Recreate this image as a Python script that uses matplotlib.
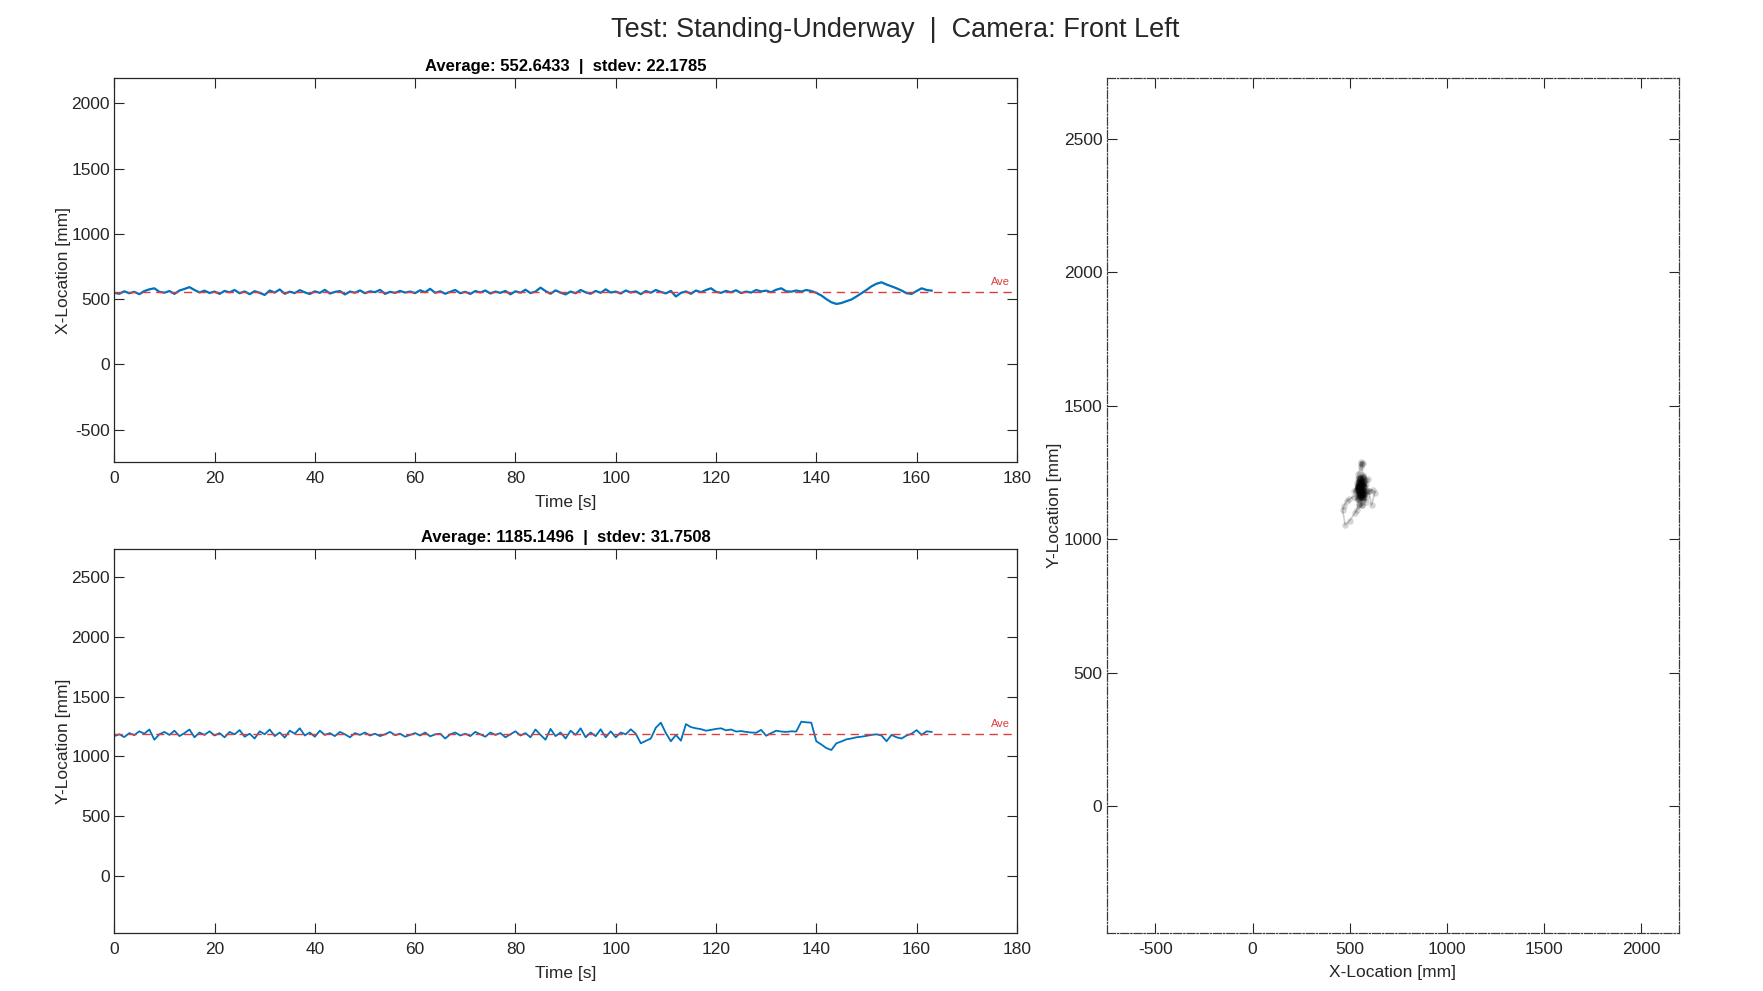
"""
Standing-Underway test, front left camera: X/Y location over time
and the X-Y track of the tracked point.
"""

import numpy as np
import matplotlib
matplotlib.use("Agg")
import matplotlib.pyplot as plt

plt.rcParams["font.family"] = ["Liberation Sans", "DejaVu Sans"]
plt.rcParams["axes.unicode_minus"] = False

# --- data (1 sample per second) ---
time_s = np.arange(0, 164)

x_loc = [
    548, 541, 560, 545, 556, 538, 562, 575, 583, 556,
    549, 562, 540, 566, 578, 592, 570, 551, 565, 547,
    558, 540, 563, 552, 570, 545, 559, 538, 561, 548,
    532, 566, 550, 574, 541, 557, 546, 569, 552, 539,
    560, 548, 571, 543, 555, 562, 536, 558, 549, 567,
    545, 560, 553, 571, 540, 556, 548, 563, 550, 558,
    546, 568, 553, 579, 548, 560, 541, 556, 570, 545,
    556, 540, 562, 551, 566, 543, 558, 548, 563, 537,
    560, 549, 572, 546, 558, 588, 562, 541, 567, 550,
    536, 558, 545, 570, 552, 541, 563, 548, 575, 550,
    558, 543, 566, 551, 560, 538, 562, 549, 570, 555,
    544, 563, 520, 548, 559, 541, 566, 553, 570, 583,
    556, 548, 563, 552, 568, 546, 558, 550, 570, 559,
    565, 553, 572, 583, 560, 557, 566, 558, 570, 562,
    548, 528, 500, 476, 463, 470, 484, 497, 520, 545,
    570, 598, 618, 629, 612, 598, 583, 566, 545, 540,
    562, 583, 570, 565,
]

y_loc = [
    1170, 1185, 1162, 1195, 1178, 1210, 1190, 1225, 1140, 1185,
    1205, 1180, 1215, 1170, 1195, 1225, 1160, 1200, 1180, 1210,
    1175, 1195, 1160, 1205, 1185, 1220, 1165, 1190, 1150, 1210,
    1185, 1225, 1170, 1200, 1158, 1215, 1190, 1235, 1175, 1200,
    1165, 1215, 1180, 1195, 1170, 1205, 1185, 1160, 1195, 1180,
    1200, 1175, 1190, 1170, 1185, 1205, 1178, 1190, 1165, 1180,
    1195, 1175, 1200, 1168, 1185, 1190, 1150, 1185, 1200, 1175,
    1190, 1170, 1205, 1185, 1165, 1200, 1180, 1195, 1160, 1185,
    1210, 1175, 1195, 1160, 1225, 1180, 1140, 1230, 1170, 1200,
    1150, 1215, 1180, 1235, 1160, 1200, 1170, 1227, 1160, 1210,
    1160, 1200, 1185, 1227, 1190, 1110, 1130, 1150, 1240, 1282,
    1195, 1127, 1180, 1132, 1270, 1245, 1235, 1228, 1215, 1222,
    1230, 1235, 1218, 1225, 1208, 1212, 1205, 1200, 1198, 1222,
    1173, 1195, 1215, 1208, 1205, 1210, 1208, 1290, 1285, 1282,
    1127, 1100, 1070, 1054, 1110, 1125, 1143, 1150, 1160, 1165,
    1172, 1180, 1185, 1175, 1127, 1180, 1160, 1150, 1175, 1190,
    1220, 1180, 1210, 1205,
]

avg_x, std_x = 552.6433, 22.1785
avg_y, std_y = 1185.1496, 31.7508

suptitle = "Test: Standing-Underway  |  Camera: Front Left"

# axis limits as shown
time_lim = (0, 180)
x_lim = (-751, 2193)
y_lim = (-475, 2728)

BLUE = "#0072BD"
RED = "#e03c3c"
DARK = "#262626"
FS = 12.5


def style_axes(ax):
    ax.tick_params(direction="in", length=7, width=0.8, top=True, right=True,
                   labelsize=FS, colors=DARK, pad=3)
    ax.tick_params(axis="x", pad=6.5)
    for sp in ax.spines.values():
        sp.set_linewidth(0.9)
        sp.set_color(DARK)


def time_panel(ax, t, vals, avg, std, ylim, yticks, ylabel, lw):
    ax.plot(t, vals, color=BLUE, lw=lw)
    ax.plot(time_lim, [avg, avg], color=RED, lw=1.0, dashes=(6, 4))
    ax.annotate("Ave", xy=(174.8, avg), xytext=(0, 4), textcoords="offset points",
                color=RED, fontsize=8, ha="left", va="bottom")
    ax.set_xlim(*time_lim)
    ax.set_ylim(*ylim)
    ax.set_xticks(np.arange(0, 181, 20))
    ax.set_yticks(yticks)
    ax.set_xlabel("Time [s]", fontsize=FS, color=DARK, labelpad=6)
    ax.set_ylabel(ylabel, fontsize=FS, color=DARK, labelpad=0)
    ax.set_title(f"Average: {avg:.4f}  |  stdev: {std:.4f}",
                 fontsize=12, fontweight="bold", pad=5)
    style_axes(ax)


fig = plt.figure(figsize=(17.63, 9.91), dpi=100)

ax_x = fig.add_axes([0.0648, 0.5335, 0.5120, 0.3875])
ax_y = fig.add_axes([0.0648, 0.0582, 0.5120, 0.3875])
ax_xy = fig.add_axes([0.6277, 0.0588, 0.3246, 0.8622])

time_panel(ax_x, time_s, x_loc, avg_x, std_x, x_lim,
           np.arange(-500, 2001, 500), "X-Location [mm]", 1.6)
time_panel(ax_y, time_s, y_loc, avg_y, std_y, y_lim,
           np.arange(0, 2501, 500), "Y-Location [mm]", 1.3)

# X-Y track: faint path plus overlapping translucent points
ax_xy.plot(x_loc, y_loc, color="k", lw=1.2, alpha=0.2)
ax_xy.scatter(x_loc, y_loc, s=22, color="k", alpha=0.16, linewidths=0)
ax_xy.set_xlim(*x_lim)
ax_xy.set_ylim(*y_lim)
ax_xy.set_xticks(np.arange(-500, 2001, 500))
ax_xy.set_yticks(np.arange(0, 2501, 500))
ax_xy.set_xlabel("X-Location [mm]", fontsize=FS, color=DARK, labelpad=6)
ax_xy.set_ylabel("Y-Location [mm]", fontsize=FS, color=DARK, labelpad=1)
style_axes(ax_xy)
for sp in ax_xy.spines.values():
    sp.set_linestyle("-.")
    sp.set_color("#3a3a3a")

fig.text(0.508, 0.970, suptitle, ha="center", va="center",
         fontsize=19.5, color=DARK)

fig.savefig("out.png", dpi=100)
